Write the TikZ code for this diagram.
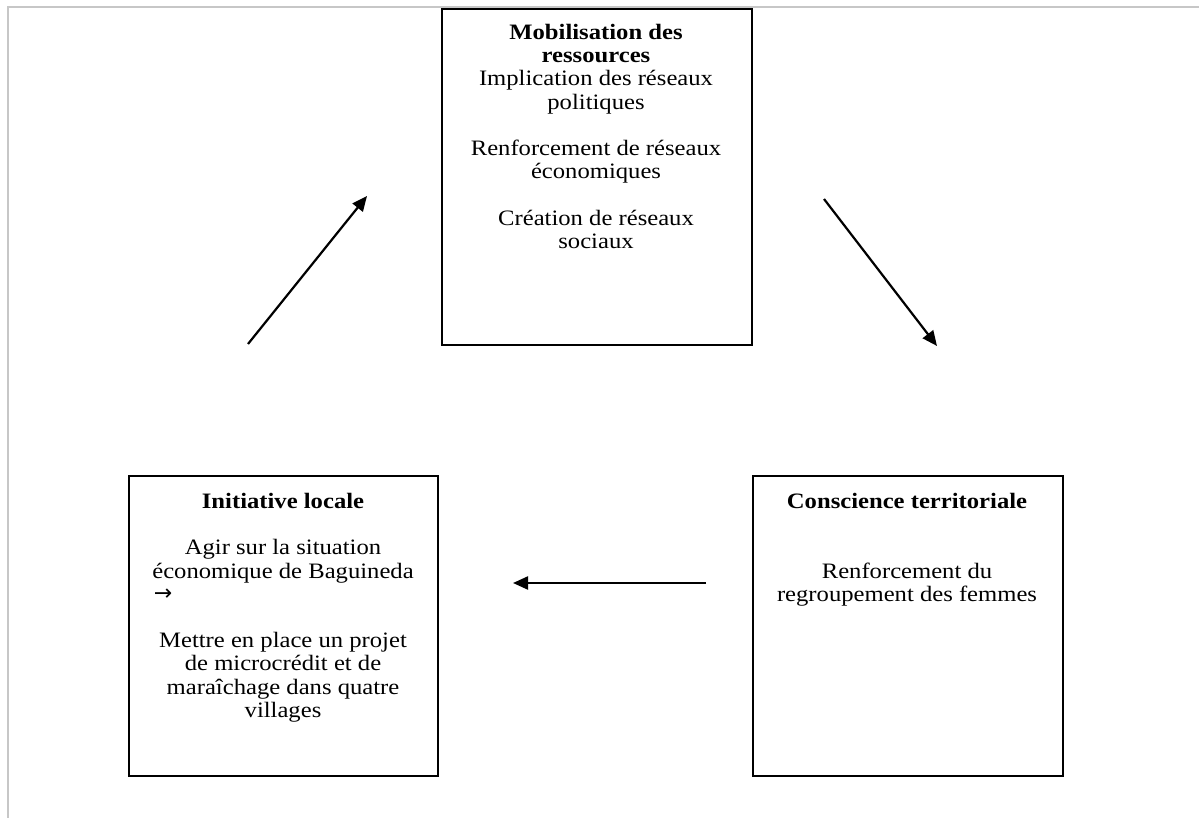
\documentclass[tikz,border=0pt]{standalone}
\usepackage{fontspec}
\setmainfont[FakeStretch=1.12]{Liberation Serif}
\newfontfamily\arrowfont{DejaVu Sans}
\usetikzlibrary{arrows.meta}

\tikzset{
  frameline/.style={draw=black!22, line width=2pt},
  box/.style={draw=black, line width=2pt, rectangle, inner sep=0pt, anchor=north west},
  txt/.style={align=center, inner sep=0pt, anchor=north,
              font=\fontsize{22}{23.2}\selectfont},
  flow/.style={line width=2.2pt, -{Triangle[length=15pt,width=13pt]}}
}

\begin{document}
\begin{tikzpicture}[x=1pt, y=-1pt]
  \useasboundingbox (0,0) rectangle (1199,818);

  % page frame
  \draw[frameline] (1199,7) -- (8,7) -- (8,818);

  % the three boxes
  \node[box, minimum width=310pt, minimum height=336pt] (res) at (441,8) {};
  \node[box, minimum width=309pt, minimum height=300pt] (loc) at (128,475) {};
  \node[box, minimum width=310pt, minimum height=300pt] (ter) at (752,475) {};

  % box texts
  \node[txt] (restxt) at (596,23) {\strut\textbf{Mobilisation des}\\
    \textbf{ressources}\\
    Implication des réseaux\\
    politiques\\[23.2pt]
    Renforcement de réseaux\\
    économiques\\[23.2pt]
    Création de réseaux\\
    sociaux};

  \node[txt] (loctxt) at (283,492) {\strut\textbf{Initiative locale}\\[23.2pt]
    Agir sur la situation\\
    économique de Baguineda\\
    ~\\[23.2pt]
    Mettre en place un projet\\
    de microcrédit et de\\
    maraîchage dans quatre\\
    villages};
  \node[inner sep=0pt, font=\arrowfont\fontsize{22}{24}\selectfont] (locarrow) at (163,595) {→};

  \node[txt] (tertxt) at (907,492) {\strut\textbf{Conscience territoriale}\\[46.4pt]
    Renforcement du\\
    regroupement des femmes};

  % cycle arrows
  \coordinate (upS) at (248,344);
  \coordinate (upE) at (367,196);
  \coordinate (dnS) at (824,199);
  \coordinate (dnE) at (937,346);
  \coordinate (lfS) at (706,583);
  \coordinate (lfE) at (513,583);
  \draw[flow] (upS) -- (upE);
  \draw[flow] (dnS) -- (dnE);
  \draw[flow] (lfS) -- (lfE);
\end{tikzpicture}
\end{document}
